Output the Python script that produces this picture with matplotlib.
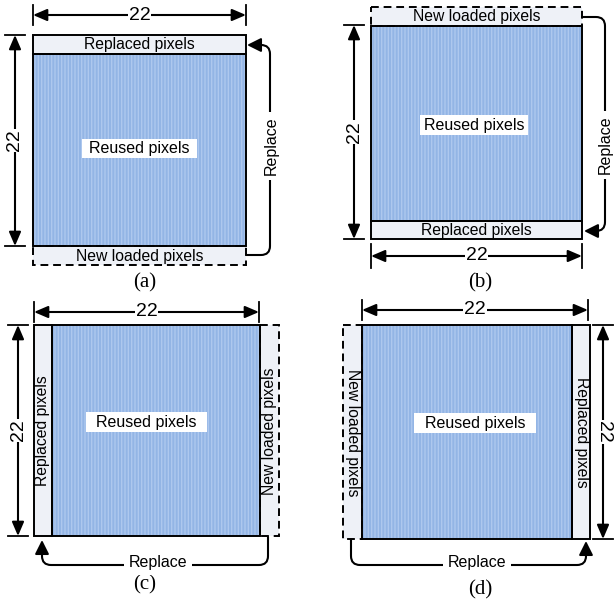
import matplotlib.pyplot as plt
from matplotlib.patches import Rectangle, FancyArrowPatch

# Tile size and labels
tile_size = 22
panel_names = ['(a)', '(b)', '(c)', '(d)']
reused_label = 'Reused pixels'
replaced_label = 'Replaced pixels'
new_label = 'New loaded pixels'
replace_label = 'Replace'

BLUE = '#93b5e5'
BLUE_LINE = '#aec8ee'
STRIP = '#eef1f7'
SANS = 'Liberation Sans'
SERIF = 'Liberation Serif'

fig = plt.figure(figsize=(6.16, 6.08), dpi=100)
ax = fig.add_axes([0, 0, 1, 1])
ax.set_xlim(0, 616)
ax.set_ylim(608, 0)
ax.axis('off')


def block(x0, y0, x1, y1):
    ax.add_patch(Rectangle((x0, y0), x1 - x0, y1 - y0, facecolor=BLUE,
                           edgecolor=BLUE_LINE, lw=0, hatch='|||||', zorder=1))
    ax.add_patch(Rectangle((x0, y0), x1 - x0, y1 - y0, fill=False,
                           edgecolor='black', lw=1.4, zorder=3))


def strip(x0, y0, x1, y1, text, dashed=False, rot=0):
    ax.add_patch(Rectangle((x0, y0), x1 - x0, y1 - y0, facecolor=STRIP,
                           edgecolor='black', lw=1.4,
                           linestyle=(0, (4, 2.5)) if dashed else '-', zorder=2))
    ax.text((x0 + x1) / 2, (y0 + y1) / 2 + 0.5, text, ha='center', va='center',
            rotation=rot, fontsize=11.3, family=SANS, zorder=4)


def reused(cx, cy, w, h):
    ax.add_patch(Rectangle((cx - w / 2, cy - h / 2), w, h, facecolor='white',
                           edgecolor='none', zorder=4))
    ax.text(cx, cy + 0.5, reused_label, ha='center', va='center',
            fontsize=11.5, family=SANS, zorder=5)


def dim_h(x0, x1, y, t=10):
    ax.add_patch(FancyArrowPatch((x0, y), (x1, y), arrowstyle='<|-|>,head_length=0.7,head_width=0.3',
                                 mutation_scale=12, lw=1.5, color='black',
                                 shrinkA=0, shrinkB=0, zorder=3))
    ax.plot([x0, x0], [y - t, y + t], color='black', lw=1.3, zorder=3)
    ax.plot([x1, x1], [y - t, y + t], color='black', lw=1.3, zorder=3)
    ax.text((x0 + x1) / 2, y, str(tile_size), ha='center', va='center', fontsize=14,
            family=SANS, zorder=4,
            bbox=dict(boxstyle='square,pad=0.05', facecolor='white', edgecolor='none'))


def dim_v(x, y0, y1, rot=90, t=10):
    ax.add_patch(FancyArrowPatch((x, y0), (x, y1), arrowstyle='<|-|>,head_length=0.7,head_width=0.3',
                                 mutation_scale=12, lw=1.5, color='black',
                                 shrinkA=0, shrinkB=0, zorder=3))
    ax.plot([x - t, x + t], [y0, y0], color='black', lw=1.3, zorder=3)
    ax.plot([x - t, x + t], [y1, y1], color='black', lw=1.3, zorder=3)
    ax.text(x, (y0 + y1) / 2, str(tile_size), ha='center', va='center', fontsize=14,
            rotation=rot, family=SANS, zorder=4,
            bbox=dict(boxstyle='square,pad=0.05', facecolor='white', edgecolor='none'))


def replace_arrow(pa, pb, angle, arm_a, arm_b, text_xy, rot=0):
    # arms and corner radius are in display pixels
    style = 'arc,angleA=%d,angleB=%d,armA=%.1f,armB=%.1f,rad=9' % (
        angle, angle, arm_a, arm_b)
    ax.add_patch(FancyArrowPatch(pa, pb, connectionstyle=style,
                                 arrowstyle='-|>,head_length=0.7,head_width=0.35',
                                 mutation_scale=12, lw=1.5, color='black',
                                 shrinkA=0, shrinkB=0, zorder=3))
    ax.text(text_xy[0], text_xy[1], replace_label, ha='center', va='center',
            rotation=rot, fontsize=11.5, family=SANS, zorder=4,
            bbox=dict(boxstyle='square,pad=0.3', facecolor='white', edgecolor='none'))


# (a) shift up: top rows replaced, new rows loaded at the bottom
strip(33, 246, 246, 265, new_label, dashed=True)
strip(33, 35, 246, 54, replaced_label)
block(33, 54, 246, 246)
reused(139, 148, 115, 19)
dim_h(33, 246, 15)
dim_v(15, 35, 246)
replace_arrow((246, 255), (247, 45), 0, 24, 23, (271, 146), rot=90)
ax.text(145, 283, panel_names[0], ha='center', va='center', fontsize=15, family=SERIF)

# (b) shift down
strip(371, 7, 582, 26, new_label, dashed=True)
strip(371, 221, 582, 239, replaced_label)
block(371, 26, 582, 221)
reused(474, 125, 108, 20)
dim_v(354, 25, 239)
dim_h(371, 582, 256, t=12)
replace_arrow((582, 17), (584, 231), 0, 23, 21, (605, 145), rot=90)
ax.text(480, 283, panel_names[1], ha='center', va='center', fontsize=15, family=SERIF)

# (c) shift left
strip(260, 325, 279, 536, new_label, dashed=True, rot=90)
strip(34, 325, 52, 536, replaced_label, rot=90)
block(52, 325, 260, 536)
reused(146, 422, 121, 20)
dim_h(34, 259, 312)
dim_v(18, 325, 536)
replace_arrow((268, 537), (42, 540), -90, 28, 25, (158, 563))
ax.text(145, 585, panel_names[2], ha='center', va='center', fontsize=15, family=SERIF)

# (d) shift right
strip(343, 325, 362, 539, new_label, dashed=True, rot=-90)
strip(572, 325, 590, 539, replaced_label, rot=-90)
block(362, 325, 572, 539)
reused(475, 423, 122, 20)
dim_h(362, 588, 310)
dim_v(603, 325, 539, rot=-90)
replace_arrow((351, 540), (586, 541), -90, 25, 24, (477, 563))
ax.text(480, 590, panel_names[3], ha='center', va='center', fontsize=15, family=SERIF)

fig.savefig('out.png', dpi=100)
